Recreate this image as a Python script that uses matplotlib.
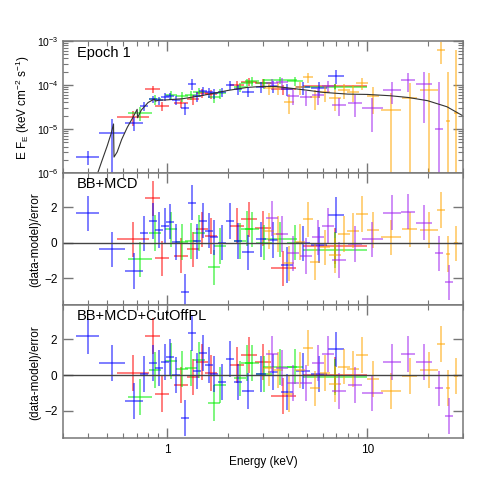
import numpy as np
import matplotlib
matplotlib.use('Agg')
import matplotlib.pyplot as plt
from matplotlib.ticker import LogLocator, FixedLocator, NullFormatter, FuncFormatter

plt.rcParams['font.family'] = ['Liberation Sans', 'DejaVu Sans']
plt.rcParams['mathtext.fontset'] = 'custom'
plt.rcParams['mathtext.rm'] = 'Liberation Sans'
plt.rcParams['mathtext.it'] = 'Liberation Sans:italic'

# ---- data (energies in keV, flux in keV cm^-2 s^-1, bin half-width in dex) ----
blue_e = [0.398, 0.529, 0.678, 0.765, 0.843, 0.909, 0.970, 1.030, 1.099, 1.218, 1.331, 1.409, 1.509,
          1.608, 1.717, 1.874, 2.044, 2.240, 2.52, 2.93, 3.38, 3.96, 4.76, 5.71, 6.97]
blue_dex = [0.058, 0.064, 0.045, 0.02, 0.02, 0.02, 0.02, 0.02, 0.02, 0.02, 0.02, 0.02, 0.02,
            0.02, 0.02, 0.02, 0.02, 0.02, 0.03, 0.025, 0.025, 0.03, 0.035, 0.04, 0.042]
blue_flux = [2.3e-6, 8.2e-6, 1.4e-5, 3.3e-5, 4.7e-5, 4.5e-5, 5.4e-5, 5.6e-5, 4.6e-5, 3.0e-5, 1.05e-4, 5.6e-5, 7.4e-5,
             6.8e-5, 6.5e-5, 6.9e-5, 1.0e-4, 8.0e-5, 7.0e-5, 9.0e-5, 9.5e-5, 8.0e-5, 8.8e-5, 8.5e-5, 1.63e-4]
blue_ferr = [8e-7, 9e-6, 5e-6, 7e-6, 9e-6, 9e-6, 1.1e-5, 1.1e-5, 1.0e-5, 9e-6, 3e-5, 1.4e-5, 1.8e-5,
             1.7e-5, 1.6e-5, 1.7e-5, 2.5e-5, 2.0e-5, 1.8e-5, 2.5e-5, 2.8e-5, 2.4e-5, 3.0e-5, 3.4e-5, 5.5e-5]
blue_res1 = [1.66, -0.37, -1.60, 0.53, 1.22, 0.72, 0.94, 1.19, 0.03, -2.77, 2.26, 0.08, 1.24,
             0.68, 0.30, 0.00, 1.22, 0.10, -0.55, 0.19, 0.15, -1.26, -0.04, -0.13, 1.56]
blue_res2 = [2.18, 0.65, -1.45, 0.06, 0.69, 0.37, 0.74, 1.02, 0.00, -2.38, 2.33, 0.22, 1.25,
             0.56, 0.05, -0.37, 0.88, -0.37, -0.88, 0.06, 0.19, -0.93, 0.22, 0.06, 1.43]

red_e = [0.670, 0.843, 0.944, 1.164, 1.346, 1.491, 1.652, 2.224, 2.56, 2.99, 3.79, 6.9]
red_dex = [0.079, 0.037, 0.035, 0.035, 0.03, 0.03, 0.03, 0.035, 0.04, 0.04, 0.062, 0.161]
red_flux = [1.9e-5, 8.0e-5, 3.3e-5, 3.85e-5, 4.7e-5, 6.5e-5, 6.2e-5, 1.0e-4, 1.19e-4, 1.1e-4, 7.9e-5, 9.5e-5]
red_ferr = [7e-6, 1.3e-5, 8e-6, 9e-6, 1.1e-5, 1.5e-5, 1.5e-5, 2.2e-5, 2.6e-5, 2.6e-5, 2.0e-5, 1.2e-5]
red_res1 = [0.19, 2.50, -0.88, -0.73, -0.37, 0.75, 0.38, 0.94, 1.32, 0.81, -1.45, -0.19]
red_res2 = [0.09, 2.18, -1.08, -0.56, -0.13, 0.74, 0.13, 0.56, 1.12, 0.71, -1.17, 0.00]

green_e = [0.731, 0.865, 1.047, 1.187, 1.305, 1.434, 1.717, 1.838, 2.31, 2.49, 2.64, 3.04, 3.65, 4.33, 6.9]
green_dex = [0.06, 0.03, 0.03, 0.03, 0.03, 0.03, 0.03, 0.03, 0.03, 0.03, 0.035, 0.04, 0.085, 0.04, 0.161]
green_flux = [2.35e-5, 4.7e-5, 5.9e-5, 5.5e-5, 5.9e-5, 7.0e-5, 5.4e-5, 6.5e-5, 9.0e-5, 1.1e-4, 1.25e-4, 1.1e-4,
              1.3e-4, 1.25e-4, 9.2e-5]
green_ferr = [8e-6, 1.2e-5, 1.3e-5, 1.3e-5, 1.4e-5, 1.6e-5, 1.6e-5, 1.7e-5, 2.2e-5, 2.5e-5, 2.8e-5, 2.8e-5,
              2.5e-5, 3.0e-5, 1.5e-5]
green_res1 = [-0.94, 0.56, 0.76, 0.05, 0.10, 0.56, -1.39, -0.19, 0.10, 0.80, 0.76, 0.00, 0.19, 0.00, -0.41]
green_res2 = [-1.25, 0.28, 0.78, 0.32, 0.37, 0.84, -1.58, -0.56, -0.19, 0.65, 0.65, 0.04, 0.43, 0.47, -0.13]

orange_e = [3.23, 3.58, 4.06, 4.58, 5.04, 5.50, 6.17, 6.92, 7.66, 8.52, 9.45, 10.67, 13.06, 16.29, 20.23,
            23.28, 25.4, 27.76]
orange_dex = [0.025, 0.025, 0.025, 0.025, 0.025, 0.025, 0.025, 0.03, 0.03, 0.03, 0.03, 0.03, 0.05, 0.037, 0.045,
              0.02, 0.01, 0.01]
orange_flux = [8.4e-5, 9.0e-5, 4.2e-5, 9.0e-5, 1.5e-4, 5.2e-5, 7.0e-5, 5.1e-5, 7.7e-5, 7.1e-5, 1.1e-4, 5.7e-5,
               2.7e-5, 5.1e-5, 7.7e-5, 6.2e-4, 1.5e-5, 2.3e-5]
orange_ferr = [2.5e-5, 3e-5, 2e-5, 3e-5, 4e-5, 2.5e-5, 3e-5, 2.5e-5, 3e-5, 3e-5, 3.5e-5, 3.5e-5,
               4e-5, 6e-5, 1.1e-4, 3.2e-4, 1.8e-4, 6e-4]
orange_res1 = [0.66, 0.50, -1.17, 0.05, 1.32, -1.09, -0.26, -0.71, 0.49, 0.68, 1.62, 0.72, 0.30, 0.76, 0.72,
               1.85, -0.64, -0.04]
orange_res2 = [0.37, 0.28, -1.06, 0.28, 1.49, -0.75, 0.09, -0.50, 0.47, 0.32, 1.12, -0.24, -0.90, -0.06, 0.28,
               1.71, -0.71, -0.04]

purple_e = [3.32, 3.74, 4.25, 4.95, 5.65, 6.33, 7.24, 8.69, 10.59, 13.30, 15.97, 19.18, 22.86, 25.7]
purple_dex = [0.03, 0.03, 0.03, 0.03, 0.03, 0.03, 0.035, 0.035, 0.052, 0.045, 0.035, 0.04, 0.02, 0.02]
purple_flux = [1.13e-4, 1.15e-4, 5.6e-5, 5.4e-5, 6.0e-5, 9.5e-5, 3.5e-5, 3.85e-5, 2.95e-5, 7.7e-5, 1.3e-4,
               1.04e-4, 1.0e-5, np.nan]
purple_ferr = [2.5e-5, 3e-5, 2e-5, 2e-5, 2.5e-5, 3e-5, 1.5e-5, 2e-5, 2.1e-5, 4e-5, 6e-5, 9e-5, 1.1e-4, np.nan]
purple_res1 = [1.38, 0.49, -0.60, -0.75, 0.30, 0.94, -0.98, -0.07, 0.19, 1.70, 1.75, 1.13, -0.60, -2.24]
purple_res2 = [1.17, 0.37, -0.43, -0.43, 0.65, 1.17, -0.90, -0.56, -0.99, 0.74, 1.17, 0.71, -0.75, -2.29]

model_e = [0.44, 0.47, 0.50, 0.523, 0.537, 0.540, 0.56, 0.59, 0.63, 0.67, 0.705, 0.708, 0.74, 0.80, 0.86,
           0.87, 0.90, 1.0, 1.2, 1.5, 2.0, 2.5, 3.0, 3.5, 4.0, 5.0, 6.0, 8.0, 10.0, 13.0, 16.0, 20.0, 25.0, 30.0]
model_flux = [8e-7, 1.9e-6, 4.2e-6, 8e-6, 1.3e-5, 2.3e-6, 3.0e-6, 5.8e-6, 1.1e-5, 1.8e-5, 2.8e-5, 1.8e-5,
              2.7e-5, 4.0e-5, 4.8e-5, 4.3e-5, 4.5e-5, 4.6e-5, 4.9e-5, 5.8e-5, 7.5e-5, 8.8e-5, 9.3e-5, 9.2e-5,
              8.6e-5, 7.6e-5, 6.8e-5, 6.2e-5, 6.1e-5, 5.7e-5, 5.2e-5, 4.4e-5, 3.2e-5, 2.0e-5]

datasets = [
    ('#ff0000', red_e, red_dex, red_flux, red_ferr, red_res1, red_res2),
    ('#00ee00', green_e, green_dex, green_flux, green_ferr, green_res1, green_res2),
    ('#0000ff', blue_e, blue_dex, blue_flux, blue_ferr, blue_res1, blue_res2),
    ('#ffa500', orange_e, orange_dex, orange_flux, orange_ferr, orange_res1, orange_res2),
    ('#a020f0', purple_e, purple_dex, purple_flux, purple_ferr, purple_res1, purple_res2),
]

AXCOL = '#777777'

fig = plt.figure(figsize=(5.01, 5.01), dpi=100)
ax_top = fig.add_axes([0.1257, 0.6547, 0.798, 0.2635])
ax_mid = fig.add_axes([0.1257, 0.3912, 0.798, 0.2635], sharex=ax_top)
ax_bot = fig.add_axes([0.1257, 0.1257, 0.798, 0.2655], sharex=ax_top)

for col, e, dex, flux, ferr, res1, res2 in datasets:
    e = np.array(e)
    dex = np.array(dex)
    xerr = [e - e * 10 ** (-dex), e * 10 ** dex - e]
    kw = dict(fmt='none', ecolor=col, elinewidth=1.3, alpha=0.55, capsize=0)
    ax_top.errorbar(e, flux, xerr=xerr, yerr=ferr, **kw)
    ax_mid.errorbar(e, res1, xerr=xerr, yerr=1.0, **kw)
    ax_bot.errorbar(e, res2, xerr=xerr, yerr=1.0, **kw)

ax_top.plot(model_e, model_flux, color='#333333', lw=0.8)
for ax in (ax_mid, ax_bot):
    ax.axhline(0, color='#444444', lw=1.0)

ax_top.set_xscale('log')
ax_top.set_yscale('log')
ax_top.set_xlim(0.3, 30)
ax_top.set_ylim(1e-6, 1e-3)
ax_mid.set_ylim(-3.52, 3.94)
ax_bot.set_ylim(-3.52, 3.91)

ax_top.yaxis.set_major_locator(LogLocator(base=10))
ax_top.yaxis.set_minor_locator(LogLocator(base=10, subs=np.arange(2, 10)))
ax_top.yaxis.set_minor_formatter(NullFormatter())
ax_top.yaxis.set_major_formatter(FuncFormatter(lambda v, p: r'10$^{%d}$' % round(np.log10(v))))

ax_top.xaxis.set_major_locator(LogLocator(base=10))
ax_top.xaxis.set_minor_locator(LogLocator(base=10, subs=np.arange(2, 10)))
ax_top.xaxis.set_minor_formatter(NullFormatter())
ax_top.xaxis.set_major_formatter(FuncFormatter(lambda v, p: '%g' % v))

for ax in (ax_mid, ax_bot):
    ax.yaxis.set_major_locator(FixedLocator([-2, 0, 2]))
    ax.yaxis.set_minor_locator(FixedLocator([]))

for ax in (ax_top, ax_mid, ax_bot):
    ax.tick_params(which='both', direction='in', top=True, right=True, color=AXCOL, labelsize=8.5, pad=4)
    ax.tick_params(which='major', length=7, width=1)
    ax.tick_params(which='minor', length=3.5, width=0.8)
    for s in ax.spines.values():
        s.set_color(AXCOL)
        s.set_linewidth(1.1)
for ax in (ax_top, ax_mid):
    ax.tick_params(labelbottom=False)
ax_top.tick_params(axis='y', labelsize=7.5, pad=3)

ax_top.text(0.035, 0.91, 'Epoch 1', transform=ax_top.transAxes, fontsize=10.5, va='center')
ax_mid.text(0.035, 0.92, 'BB+MCD', transform=ax_mid.transAxes, fontsize=10.5, va='center')
ax_bot.text(0.035, 0.92, 'BB+MCD+CutOffPL', transform=ax_bot.transAxes, fontsize=10.5, va='center')

fig.text(0.046, 0.786, r'E F$_{\rm E}$ (keV cm$^{-2}$ s$^{-1}$)', rotation=90, ha='center', va='center', fontsize=8.5)
fig.text(0.07, 0.521, '(data-model)/error', rotation=90, ha='center', va='center', fontsize=8.5)
fig.text(0.07, 0.257, '(data-model)/error', rotation=90, ha='center', va='center', fontsize=8.5)
fig.text(0.525, 0.078, 'Energy (keV)', ha='center', va='center', fontsize=8.5)

fig.savefig('out.png', dpi=100)
